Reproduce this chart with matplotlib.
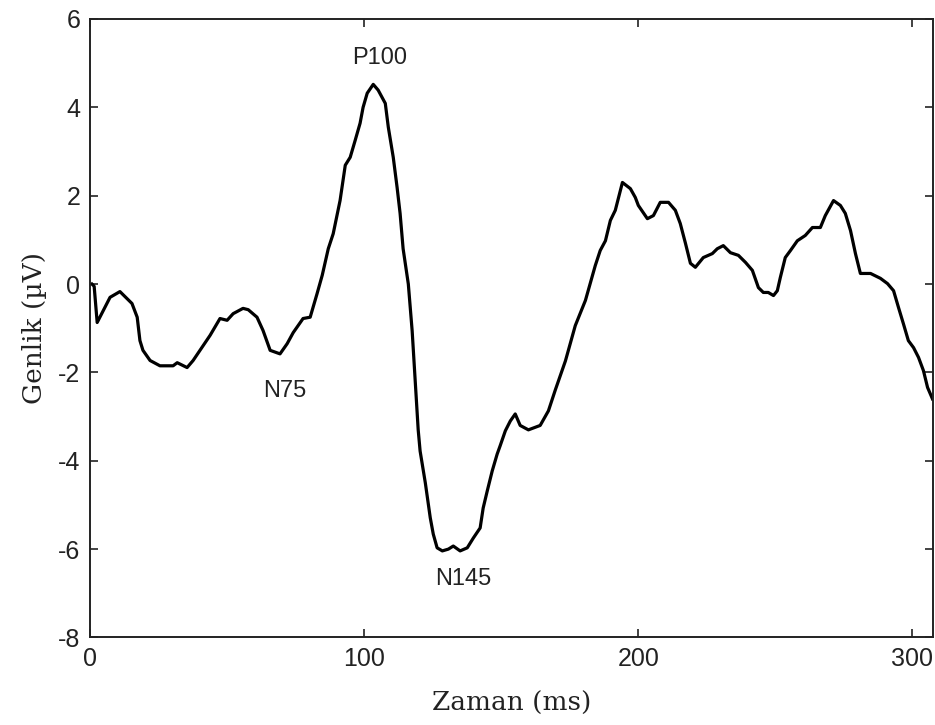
import matplotlib
matplotlib.use("Agg")
import matplotlib.pyplot as plt

plt.rcParams["axes.unicode_minus"] = False

# Time (ms) and amplitude (µV)
time_ms = [0.7, 1.5, 2.6, 7.3, 10.9, 15.3, 17.2, 18.2, 19.3, 21.9, 25.5, 30.3, 31.8,
           35.4, 37.6, 40.1, 43.8, 47.4, 50.0, 52.2, 55.8, 57.7, 60.9, 63.1, 65.7,
           69.3, 71.9, 74.1, 77.7, 80.3, 82.8, 84.7, 86.9, 88.7, 91.2, 92.3, 93.1,
           94.9, 96.7, 98.5, 99.6, 101.1, 103.3, 105.1, 107.7, 108.8, 110.6, 112.0,
           113.1, 114.2, 116.1, 117.5, 118.6, 119.7, 120.4, 122.3, 124.1, 125.2,
           126.6, 128.5, 130.7, 132.5, 135.0, 137.6, 139.8, 142.3, 143.4, 144.9,
           146.7, 148.5, 149.6, 151.5, 153.3, 155.1, 156.9, 159.9, 164.2, 167.2,
           169.7, 173.4, 177.0, 180.7, 184.3, 186.1, 188.0, 189.8, 191.6, 194.2,
           197.1, 198.9, 200.0, 203.3, 205.5, 208.0, 211.0, 213.5, 215.3, 217.2,
           219.0, 220.8, 223.7, 227.0, 228.8, 231.0, 233.6, 236.5, 239.1, 241.6,
           243.8, 245.6, 247.4, 249.3, 250.7, 251.8, 253.6, 255.5, 258.0, 260.9,
           263.5, 266.4, 268.2, 271.2, 273.7, 275.5, 277.4, 279.2, 281.0, 284.7,
           288.3, 290.9, 293.1, 294.9, 296.7, 298.5, 300.4, 302.2, 304.0, 305.5,
           307.3]
amplitude_uv = [0.0, -0.05, -0.87, -0.3, -0.17, -0.44, -0.75, -1.28, -1.5, -1.73, -1.85,
                -1.85, -1.78, -1.89, -1.73, -1.5, -1.16, -0.78, -0.82, -0.67, -0.55,
                -0.58, -0.75, -1.05, -1.5, -1.58, -1.35, -1.1, -0.78, -0.75, -0.22,
                0.2, 0.8, 1.14, 1.89, 2.35, 2.69, 2.87, 3.25, 3.64, 4.0, 4.32, 4.52,
                4.39, 4.09, 3.55, 2.87, 2.19, 1.6, 0.8, 0.0, -1.06, -2.2, -3.3, -3.78,
                -4.5, -5.29, -5.66, -5.97, -6.04, -6.0, -5.93, -6.04, -5.97, -5.75,
                -5.52, -5.07, -4.68, -4.23, -3.85, -3.66, -3.32, -3.1, -2.94, -3.2,
                -3.3, -3.2, -2.87, -2.4, -1.74, -0.94, -0.37, 0.42, 0.76, 0.98, 1.44,
                1.67, 2.3, 2.16, 1.96, 1.78, 1.48, 1.55, 1.85, 1.85, 1.67, 1.37, 0.92,
                0.47, 0.38, 0.6, 0.69, 0.8, 0.87, 0.71, 0.65, 0.49, 0.31, -0.08,
                -0.19, -0.19, -0.26, -0.15, 0.15, 0.6, 0.76, 0.98, 1.1, 1.28, 1.28,
                1.55, 1.89, 1.78, 1.6, 1.21, 0.69, 0.24, 0.24, 0.13, 0.01, -0.15,
                -0.53, -0.9, -1.28, -1.44, -1.66, -1.96, -2.34, -2.6]

peak_labels = ["P100", "N75", "N145"]
peak_label_x = [105.8, 71.2, 136.1]
peak_label_y = [5.12, -2.41, -6.68]

x_ticks = [0, 100, 200, 300]
y_ticks = [-8, -6, -4, -2, 0, 2, 4, 6]

fig = plt.figure(figsize=(9.35, 7.25), dpi=100)
ax = fig.add_axes([0.0963, 0.1207, 0.9016, 0.8531])

ax.plot(time_ms, amplitude_uv, color="black", linewidth=2.3)

for lab, lx, ly in zip(peak_labels, peak_label_x, peak_label_y):
    ax.text(lx, ly, lab, ha="center", va="center", fontsize=17,
            family="Liberation Sans", color="#222222")

ax.set_xlim(0, 307.5)
ax.set_ylim(-8, 6)
ax.set_xticks(x_ticks)
ax.set_yticks(y_ticks)
ax.tick_params(direction="in", length=6, width=1.2, top=True, right=True,
               labelsize=18, pad=7, colors="#222222")
for lbl in ax.get_xticklabels() + ax.get_yticklabels():
    lbl.set_family("Liberation Sans")
for sp in ax.spines.values():
    sp.set_linewidth(1.4)
    sp.set_color("#222222")

ax.set_xlabel("Zaman (ms)", fontsize=19, family="DejaVu Serif", color="#222222",
              labelpad=14)
ax.set_ylabel("Genlik (µV)", fontsize=19, family="DejaVu Serif", color="#222222",
              labelpad=8)

fig.savefig("out.png", dpi=100)
